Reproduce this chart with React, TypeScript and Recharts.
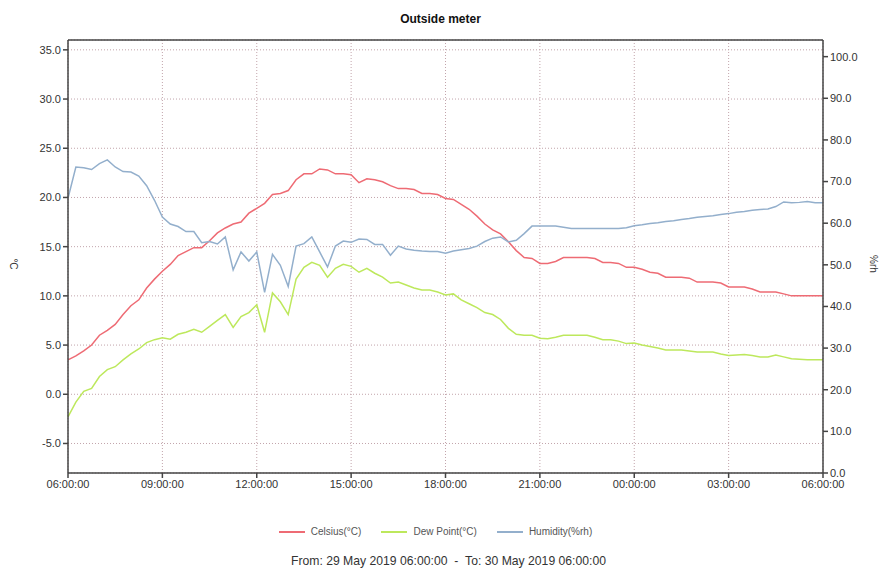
import { LineChart, Line, XAxis, YAxis, CartesianGrid, ReferenceLine } from "recharts";

// 15-minute readings from 29 May 2019 06:00 to 30 May 2019 06:00
const HOURS = Array.from({ length: 97 }, (_, i) => i * 0.25);

const CELSIUS = [
  3.5, 3.9, 4.4, 5.0, 6.0, 6.5, 7.1, 8.1, 9.0, 9.6, 10.8, 11.7, 12.5, 13.2, 14.1, 14.5,
  14.9, 14.9, 15.6, 16.4, 16.9, 17.3, 17.5, 18.4, 18.9, 19.4, 20.3, 20.4, 20.7, 21.8, 22.4, 22.4,
  22.9, 22.8, 22.4, 22.4, 22.3, 21.5, 21.9, 21.8, 21.6, 21.2, 20.9, 20.9, 20.8, 20.4, 20.4, 20.3,
  19.9, 19.8, 19.3, 18.8, 18.1, 17.3, 16.7, 16.3, 15.5, 14.6, 13.9, 13.8, 13.3, 13.3, 13.5, 13.9,
  13.9, 13.9, 13.9, 13.8, 13.4, 13.4, 13.3, 12.9, 12.9, 12.7, 12.4, 12.3, 11.9, 11.9, 11.9, 11.8,
  11.4, 11.4, 11.4, 11.3, 10.9, 10.9, 10.9, 10.7, 10.4, 10.4, 10.4, 10.2, 10.0, 10.0, 10.0, 10.0,
  10.0,
];

const DEW_POINT = [
  -2.3, -0.8, 0.3, 0.6, 1.8, 2.5, 2.8, 3.5, 4.1, 4.6, 5.25, 5.55, 5.75, 5.6, 6.1, 6.3,
  6.6, 6.3, 6.9, 7.5, 8.1, 6.8, 7.9, 8.3, 9.1, 6.3, 10.3, 9.4, 8.1, 11.7, 12.9, 13.4,
  13.1, 11.9, 12.8, 13.2, 13.0, 12.4, 12.8, 12.3, 11.9, 11.3, 11.4, 11.1, 10.8, 10.6, 10.6, 10.4,
  10.1, 10.2, 9.6, 9.2, 8.8, 8.3, 8.1, 7.6, 6.7, 6.1, 6.0, 6.0, 5.7, 5.65, 5.8, 6.0,
  6.0, 6.0, 6.0, 5.8, 5.55, 5.55, 5.4, 5.15, 5.2, 5.0, 4.85, 4.7, 4.5, 4.5, 4.5, 4.4,
  4.3, 4.3, 4.3, 4.1, 3.95, 4.0, 4.05, 3.95, 3.8, 3.8, 4.0, 3.8, 3.6, 3.55, 3.5, 3.5,
  3.5,
];

const HUMIDITY = [
  66.0, 73.5, 73.3, 72.9, 74.3, 75.2, 73.5, 72.4, 72.3, 71.3, 69.0, 65.5, 61.5, 59.8, 59.2, 58.0,
  58.0, 55.3, 55.6, 55.0, 56.7, 48.8, 53.1, 50.9, 53.1, 43.4, 52.5, 49.9, 44.8, 54.5, 55.1, 56.7,
  53.1, 49.5, 54.5, 55.7, 55.4, 56.2, 56.1, 54.9, 54.9, 52.3, 54.5, 53.8, 53.5, 53.3, 53.2, 53.2,
  52.8, 53.3, 53.6, 53.9, 54.5, 55.6, 56.4, 56.7, 55.5, 55.9, 57.5, 59.3, 59.3, 59.3, 59.3, 59.0,
  58.7, 58.7, 58.7, 58.7, 58.7, 58.7, 58.7, 58.9, 59.4, 59.6, 59.9, 60.1, 60.4, 60.6, 60.9, 61.1,
  61.4, 61.6, 61.8, 62.1, 62.3, 62.6, 62.8, 63.1, 63.3, 63.4, 64.0, 65.1, 64.9, 65.0, 65.2, 64.9,
  64.9,
];

const X_TICKS = [0, 3, 6, 9, 12, 15, 18, 21, 24];
const X_LABELS = ["06:00:00", "09:00:00", "12:00:00", "15:00:00", "18:00:00", "21:00:00", "00:00:00", "03:00:00", "06:00:00"];
const TEMP_TICKS = [-5, 0, 5, 10, 15, 20, 25, 30, 35];
const RH_TICKS = [0, 10, 20, 30, 40, 50, 60, 70, 80, 90, 100];

const LEGEND = [
  { name: "Celsius(°C)", color: "#ee6b74" },
  { name: "Dew Point(°C)", color: "#bde85c" },
  { name: "Humidity(%rh)", color: "#93afcc" },
];

const data = HOURS.map((h, i) => ({
  h,
  celsius: CELSIUS[i],
  dew: DEW_POINT[i],
  rh: HUMIDITY[i],
}));

const FONT = "'Liberation Sans', Arial, sans-serif";
const tickStyle = { fill: "#333", fontSize: 11, fontFamily: FONT };
const GRID = "#c2a4ab";

function AxisTitle({ text, x }: { text: string; x: number }) {
  return (
    <div
      style={{
        position: "absolute",
        left: x - 20,
        top: 257,
        width: 40,
        height: 14,
        lineHeight: "14px",
        textAlign: "center",
        fontSize: 10,
        color: "#333",
        transform: "rotate(90deg)",
      }}
    >
      {text}
    </div>
  );
}

export default function App() {
  return (
    <div style={{ position: "relative", width: 881, height: 571, background: "#fff", fontFamily: FONT }}>
      <style>{`body{margin:0}`}</style>
      <div style={{ position: "absolute", left: 0, top: 12, width: 881, textAlign: "center", fontSize: 12, fontWeight: "bold", color: "#111" }}>
        Outside meter
      </div>
      <LineChart width={881} height={571} data={data} margin={{ top: 40, right: 0, bottom: 68, left: 18 }}>
        <CartesianGrid yAxisId="left" stroke={GRID} strokeDasharray="1 2" />
        <XAxis
          dataKey="h"
          type="number"
          domain={[0, 24]}
          ticks={X_TICKS}
          tickFormatter={(v) => X_LABELS[X_TICKS.indexOf(v)]}
          tick={tickStyle}
          tickSize={5}
          height={30}
          stroke="#444"
          strokeWidth={1.5}
        />
        <YAxis
          yAxisId="left"
          domain={[-8, 36]}
          ticks={TEMP_TICKS}
          tickFormatter={(v) => v.toFixed(1)}
          tick={tickStyle}
          tickSize={5}
          width={50}
          stroke="#444"
          strokeWidth={1.5}
          allowDataOverflow
        />
        <YAxis
          yAxisId="right"
          orientation="right"
          domain={[0, 104]}
          ticks={RH_TICKS}
          tickFormatter={(v) => v.toFixed(1)}
          tick={tickStyle}
          tickSize={5}
          width={58}
          stroke="#444"
          strokeWidth={1.5}
          allowDataOverflow
        />
        <ReferenceLine yAxisId="left" y={36} stroke="#444" strokeWidth={1.5} />
        <Line yAxisId="left" dataKey="celsius" stroke={LEGEND[0].color} strokeWidth={1.5} dot={false} isAnimationActive={false} />
        <Line yAxisId="left" dataKey="dew" stroke={LEGEND[1].color} strokeWidth={1.5} dot={false} isAnimationActive={false} />
        <Line yAxisId="right" dataKey="rh" stroke={LEGEND[2].color} strokeWidth={1.5} dot={false} isAnimationActive={false} />
      </LineChart>

      <AxisTitle text="°C" x={13} />
      <AxisTitle text="%rh" x={873} />

      {/* Legend */}
      <div style={{ position: "absolute", left: 0, top: 526, width: 881, display: "flex", justifyContent: "center", gap: 20, fontSize: 10, color: "#555", paddingRight: 10, boxSizing: "border-box" }}>
        {LEGEND.map((item) => (
          <div key={item.name} style={{ display: "flex", alignItems: "center", gap: 6 }}>
            <div style={{ width: 26, height: 2, background: item.color }} />
            <span>{item.name}</span>
          </div>
        ))}
      </div>

      <div style={{ position: "absolute", left: 0, top: 554, width: 881, textAlign: "center", fontSize: 12.2, color: "#333", paddingLeft: 16, boxSizing: "border-box" }}>
        From: 29 May 2019 06:00:00&nbsp;&nbsp;-&nbsp;&nbsp;To: 30 May 2019 06:00:00
      </div>
    </div>
  );
}
